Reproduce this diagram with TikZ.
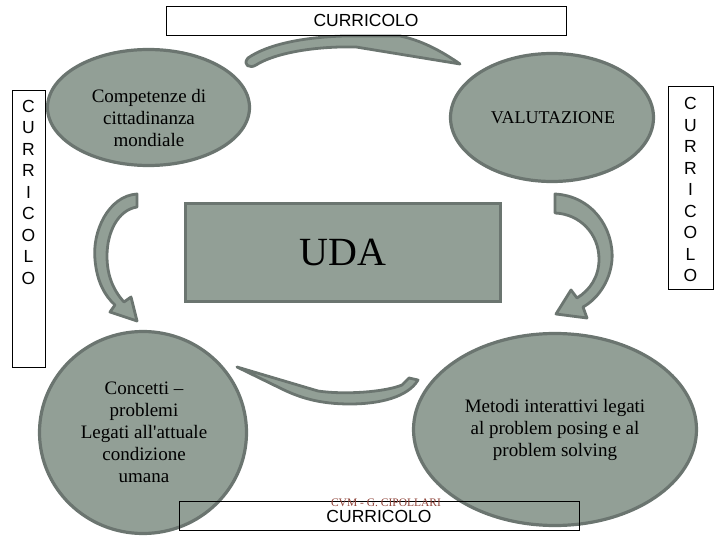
\documentclass[tikz,border=0pt]{standalone}
\usepackage{fontspec}
\setmainfont{Liberation Serif}
\newfontfamily\arialfont{Liberation Sans}
\usetikzlibrary{shapes.geometric,calc}
\definecolor{sage}{HTML}{929F96}
\definecolor{sagedark}{HTML}{6B7570}
\definecolor{cvmred}{HTML}{8E4238}
\tikzset{
  bubble/.style={ellipse,draw=sagedark,fill=sage,line width=3.2pt,inner sep=0pt},
  bubtxt/.style={align=center,font=\fontsize{19}{22}\selectfont},
  udablk/.style={rectangle,draw=sagedark,fill=sage,line width=3pt,inner sep=0pt},
  curbox/.style={rectangle,draw=black,line width=0.9pt,inner sep=0pt},
  curtxt/.style={align=center,font=\arialfont\fontsize{17.5}{21.5}\selectfont},
  bigarr/.style={draw=sagedark,fill=sage,line width=2.8pt,line join=round}
}

\begin{document}
\begin{tikzpicture}[x=1pt,y=-1pt]
  \useasboundingbox (0,0) rectangle (720,540);
  % Ellipses
  \node[bubble,minimum width=202,minimum height=116] (comp) at (148.5,107.5) {};
  \node[bubtxt] (comptxt) at (149,118) {Competenze di\\cittadinanza\\mondiale};
  \node[bubble,minimum width=203,minimum height=128] (valu) at (552,117.5) {};
  \node[bubtxt,font=\fontsize{18}{22}\selectfont] (valutxt) at (553,118) {VALUTAZIONE};
  \node[bubble,minimum width=207,minimum height=202] (conc) at (143,432.5) {};
  \node[bubtxt] (conctxt) at (144,432) {Concetti --\\problemi\\Legati all\textquotesingle attuale\\condizione\\umana};
  \node[bubble,minimum width=283,minimum height=192] (meto) at (555,429.5) {};
  \node[bubtxt] (metotxt) at (555,430) {Metodi interattivi legati\\al problem posing e al\\problem solving};

  % Curved arrows
  \draw[bigarr] (248,58) .. controls (268,44) and (305,37) .. (345,36) -- (400,36)
    .. controls (420,40) and (440,50) .. (460,64) -- (356,47)
    .. controls (315,46) and (275,53) .. (256,65) .. controls (250,69) and (242,65) .. (248,58) -- cycle;
  \draw[bigarr] (137,194) .. controls (108,196) and (92,232) .. (95,260)
    .. controls (97,282) and (105,296) .. (115,305) -- (110,312) -- (137,321) -- (131,297) -- (124,302)
    .. controls (113,290) and (107,275) .. (107,256) .. controls (107,232) and (118,210) .. (137,207) -- cycle;
  \draw[bigarr] (555,194) .. controls (592,196) and (614,228) .. (612,260)
    .. controls (610,283) and (596,300) .. (583,307) -- (587,318) -- (556,314) -- (571,290) -- (577,298)
    .. controls (590,290) and (599,277) .. (599,259) .. controls (599,234) and (580,214) .. (555,213) -- cycle;
  \draw[bigarr] (237,367) -- (318,391) .. controls (345,395) and (385,392) .. (402,385) -- (409,378) -- (418,380)
    .. controls (408,397) and (380,404) .. (350,404) .. controls (320,404) and (300,398) .. (280,388) -- cycle;

  % UDA
  \node[udablk,minimum width=315,minimum height=98,font=\fontsize{40}{44}\selectfont] (uda) at (343,252.5) {UDA};

  % Curricolo frames
  \node[curbox,curtxt,minimum width=400,minimum height=29] (curtop) at (366,20.5) {CURRICOLO};
  \node[curbox,curtxt,minimum width=400,minimum height=28.5] (curbot) at (379,516) {CURRICOLO};
  \node[curbox,minimum width=33,minimum height=277] (curleft) at (28.5,228.5) {};
  \node[curtxt] (curlefttxt) at (28.5,192) {C\\U\\R\\R\\I\\C\\O\\L\\O};
  \node[curbox,minimum width=45,minimum height=203] (curright) at (690.5,187.5) {};
  \node[curtxt] (currighttxt) at (690.5,189.5) {C\\U\\R\\R\\I\\C\\O\\L\\O};

  \node[font=\fontsize{11.5}{13}\selectfont,text=cvmred] (cvm) at (386,503) {CVM - G. CIPOLLARI};
\end{tikzpicture}
\end{document}
